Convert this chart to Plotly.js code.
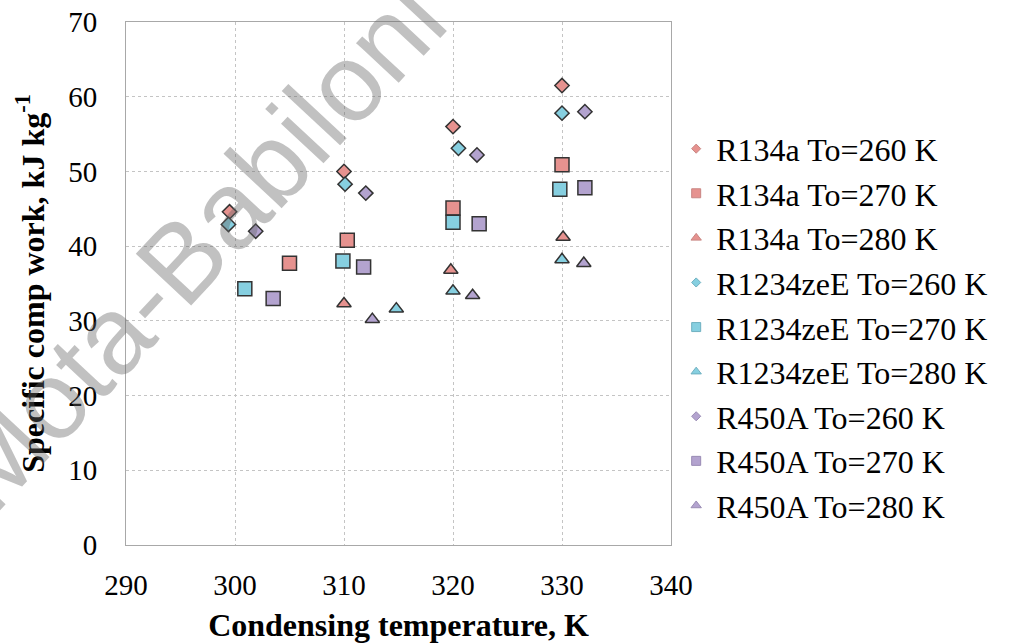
<!DOCTYPE html>
<html>
<head>
<meta charset="utf-8">
<script src="https://cdn.plot.ly/plotly-3.0.1.min.js"></script>
<style>
  html, body { margin: 0; padding: 0; background: #ffffff; }
  #chart { width: 1015px; height: 643px; }
</style>
</head>
<body>
<div id="chart"></div>
<script>
// ---- Data ----
const seriesNames = [
  "R134a To=260 K", "R134a To=270 K", "R134a To=280 K",
  "R1234zeE To=260 K", "R1234zeE To=270 K", "R1234zeE To=280 K",
  "R450A To=260 K", "R450A To=270 K", "R450A To=280 K"
];

const r134a_260_x = [299.5, 310.0, 320.0, 330.0];
const r134a_260_y = [44.6, 50.0, 56.0, 61.5];
const r134a_270_x = [305.0, 310.3, 320.0, 330.0];
const r134a_270_y = [37.7, 40.8, 45.1, 50.9];
const r134a_280_x = [310.0, 319.8, 330.1];
const r134a_280_y = [32.3, 36.8, 41.2];

const r1234zee_260_x = [299.4, 310.1, 320.5, 330.0];
const r1234zee_260_y = [42.9, 48.3, 53.1, 57.8];
const r1234zee_270_x = [300.9, 309.9, 320.0, 329.8];
const r1234zee_270_y = [34.3, 38.0, 43.2, 47.6];
const r1234zee_280_x = [314.8, 320.0, 330.0];
const r1234zee_280_y = [31.6, 34.0, 38.2];

const r450a_260_x = [301.9, 312.0, 322.2, 332.1];
const r450a_260_y = [42.0, 47.1, 52.2, 58.0];
const r450a_270_x = [303.5, 311.8, 322.4, 332.1];
const r450a_270_y = [33.0, 37.2, 43.0, 47.8];
const r450a_280_x = [312.6, 321.8, 332.0];
const r450a_280_y = [30.2, 33.4, 37.7];

const xTicks = [290, 300, 310, 320, 330, 340];
const yTicks = [0, 10, 20, 30, 40, 50, 60, 70];

// ---- Styles ----
const fillColors = { r134a: "#E6928F", r1234zee: "#86CFE0", r450a: "#B3A3CF" };
const legendLine = { r134a: "#C98683", r1234zee: "#6FB0C0", r450a: "#9A8CB4" };
const symbolFor = { "260": "diamond", "270": "square", "280": "triangle-up" };
const sizeFor = { "260": 11, "270": 14, "280": 12.5 };

const sets = [
  ["r134a", "260", r134a_260_x, r134a_260_y],
  ["r134a", "270", r134a_270_x, r134a_270_y],
  ["r134a", "280", r134a_280_x, r134a_280_y],
  ["r1234zee", "260", r1234zee_260_x, r1234zee_260_y],
  ["r1234zee", "270", r1234zee_270_x, r1234zee_270_y],
  ["r1234zee", "280", r1234zee_280_x, r1234zee_280_y],
  ["r450a", "260", r450a_260_x, r450a_260_y],
  ["r450a", "270", r450a_270_x, r450a_270_y],
  ["r450a", "280", r450a_280_x, r450a_280_y]
];

const traces = [];
sets.forEach((s, i) => {
  traces.push({
    type: "scatter", mode: "markers",
    x: s[2], y: s[3], name: seriesNames[i],
    showlegend: false, hoverinfo: "x+y+name",
    marker: {
      symbol: symbolFor[s[1]], size: sizeFor[s[1]], color: fillColors[s[0]],
      line: { color: "#333333", width: 1.5 }
    }
  });
});
// legend-only entries with small markers
sets.forEach((s, i) => {
  traces.push({
    type: "scatter", mode: "markers",
    x: [null], y: [null], name: seriesNames[i],
    showlegend: true,
    marker: {
      symbol: symbolFor[s[1]], size: s[1] === "260" ? 7 : 9, color: fillColors[s[0]],
      line: { color: legendLine[s[0]], width: 1 }
    }
  });
});

const serif = "Times New Roman, Liberation Serif, Tinos, serif";

const layout = {
  width: 1015, height: 643,
  margin: { l: 126, r: 344, t: 22, b: 98, pad: 0 },
  paper_bgcolor: "#ffffff", plot_bgcolor: "#ffffff",
  font: { family: serif, color: "#000000", size: 29 },
  showlegend: true,
  xaxis: {
    range: [290, 340], tickvals: xTicks, ticktext: xTicks.map(String),
    showgrid: true, gridcolor: "#c4c4c4", griddash: "dot", gridwidth: 1,
    zeroline: false, showline: true, mirror: true, linecolor: "#a8a8a8", linewidth: 1,
    ticks: "", ticklabelstandoff: 14,
    tickfont: { family: serif, size: 29, color: "#000000", weight: "normal" },
    title: { text: "<b>Condensing temperature, K</b>", font: { family: serif, size: 32, color: "#000000" }, standoff: 14 }
  },
  yaxis: {
    range: [0, 70], tickvals: yTicks, ticktext: yTicks.map(String),
    showgrid: true, gridcolor: "#c4c4c4", griddash: "dot", gridwidth: 1,
    zeroline: false, showline: true, mirror: true, linecolor: "#a8a8a8", linewidth: 1,
    ticks: "", ticklabelstandoff: 22,
    tickfont: { family: serif, size: 29, color: "#000000", weight: "normal" },
    title: { text: "<b>Specific comp work, kJ kg<sup>-1</sup></b>", font: { family: serif, size: 32, color: "#000000" }, standoff: 14 }
  },
  legend: {
    x: 1.0095, xanchor: "left", y: 0.81, yanchor: "top",
    font: { family: serif, size: 32, color: "#000000" },
    bgcolor: "rgba(255,255,255,0)", borderwidth: 0,
    tracegroupgap: 0, itemwidth: 30
  },
  annotations: [{
    text: "Mota-Babiloni", xref: "paper", yref: "paper",
    x: 0.125, y: 0.573, xanchor: "center", yanchor: "middle",
    showarrow: false, textangle: -47,
    font: { family: "Liberation Sans, Arial, sans-serif", size: 110, color: "rgba(100,100,100,0.40)" }
  }]
};

Plotly.newPlot("chart", traces, layout, { displayModeBar: false, staticPlot: true });
</script>
</body>
</html>
